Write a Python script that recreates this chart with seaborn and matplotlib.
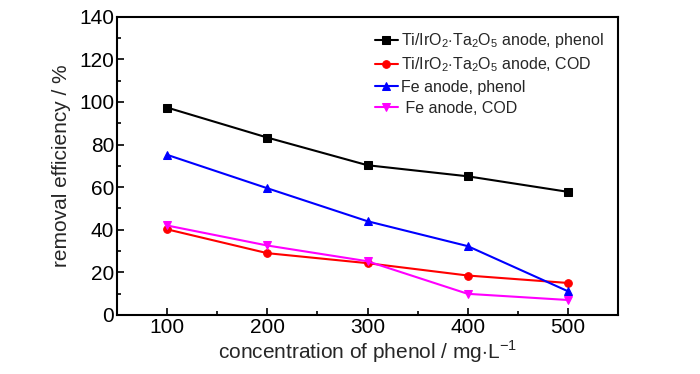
import matplotlib
matplotlib.use('Agg')
import matplotlib.pyplot as plt
from matplotlib.ticker import MultipleLocator
import seaborn as sns
import pandas as pd

# concentration of phenol (mg/L)
conc = [100, 200, 300, 400, 500]

ti_phenol = [97.4, 83.3, 70.3, 65.1, 57.8]
ti_cod = [40.2, 29.0, 24.3, 18.5, 15.0]
fe_phenol = [75.2, 59.5, 44.0, 32.3, 11.1]
fe_cod = [42.0, 32.6, 25.2, 9.9, 7.0]

series = ['Ti/IrO$_2$$\\cdot$Ta$_2$O$_5$ anode, phenol',
          'Ti/IrO$_2$$\\cdot$Ta$_2$O$_5$ anode, COD',
          'Fe anode, phenol',
          ' Fe anode, COD']
values = [ti_phenol, ti_cod, fe_phenol, fe_cod]
colors = ['black', 'red', 'blue', 'magenta']
markers = ['s', 'o', '^', 'v']

rows = []
for name, vals in zip(series, values):
    for c, v in zip(conc, vals):
        rows.append({'conc': c, 'eff': v, 'series': name})
df = pd.DataFrame(rows)

sns.set_style('ticks')
plt.rcParams['font.family'] = ['Liberation Sans Narrow', 'Liberation Sans', 'DejaVu Sans']
plt.rcParams['mathtext.fontset'] = 'custom'
plt.rcParams['mathtext.rm'] = 'Liberation Sans'

fig = plt.figure(figsize=(7, 3.74), dpi=100)
ax = fig.add_axes([0.167, 0.158, 0.716, 0.797])

sns.lineplot(data=df, x='conc', y='eff', hue='series', style='series',
             hue_order=series, style_order=series,
             palette=colors, markers=markers, dashes=False,
             markersize=5.5, linewidth=1.5, markeredgecolor=None, ax=ax)

ax.set_xlim(50, 550)
ax.set_ylim(0, 140)
ax.xaxis.set_major_locator(MultipleLocator(100))
ax.xaxis.set_minor_locator(MultipleLocator(50))
ax.yaxis.set_major_locator(MultipleLocator(20))
ax.yaxis.set_minor_locator(MultipleLocator(10))
ax.tick_params(which='both', direction='in', labelsize=15, width=1.2, colors='black')
ax.tick_params(which='major', length=5, pad=2)
ax.tick_params(which='minor', length=3)
for s in ax.spines.values():
    s.set_linewidth(1.5)
    s.set_color('black')

ax.set_xlabel('concentration of phenol / mg$\\cdot$L$^{-1}$', fontsize=15, labelpad=1)
ax.set_ylabel('removal efficiency / %', fontsize=15, labelpad=6)

leg = ax.legend(loc='upper right', frameon=False, fontsize=11.5,
                handlelength=1.4, handletextpad=0.2, labelspacing=0.35,
                bbox_to_anchor=(1.0, 1.0))

fig.savefig('out.png', dpi=100)
